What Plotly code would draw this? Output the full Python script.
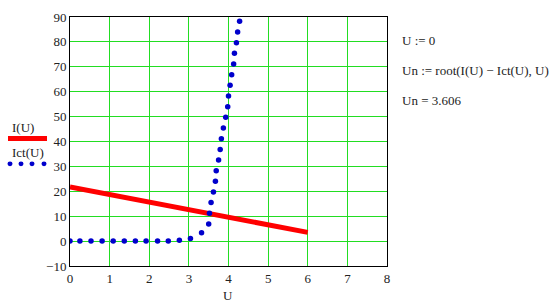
import plotly.graph_objects as go

# ---- data ----
u_line = [0, 1, 2, 3, 4, 5, 6]
i_line = [21.7, 18.7, 15.6, 12.5, 9.7, 6.5, 3.5]

u_dots = [0, 0.25, 0.53, 0.81, 1.09, 1.37, 1.65, 1.92, 2.21, 2.48, 2.76, 3.04,
          3.32, 3.50, 3.52, 3.56, 3.62, 3.67, 3.69, 3.75, 3.79, 3.82, 3.87,
          3.93, 3.98, 4.00, 4.04, 4.08, 4.13, 4.15, 4.20, 4.23, 4.28]
ict_dots = [0, 0, 0, 0, 0, 0, 0, 0, 0, 0, 0.3, 1.0,
            3.4, 6.9, 11.2, 15.5, 19.7, 24.0, 28.3, 32.6, 36.8, 41.1, 45.4,
            49.7, 54.0, 58.3, 62.6, 66.8, 71.1, 75.4, 79.7, 84.0, 88.3]

x_ticks = [0, 1, 2, 3, 4, 5, 6, 7, 8]
y_ticks = [-10, 0, 10, 20, 30, 40, 50, 60, 70, 80, 90]

W, H = 559, 308
L, R, T, B = 70, 172, 10, 42
PW, PH = W - L - R, H - T - B
FONT = "Liberation Serif, DejaVu Serif, serif"
TXT = dict(family=FONT, size=13, color="#222")

def px(xp):
    return (xp - L) / PW

def py(yp):
    return (H - B - yp) / PH

fig = go.Figure()
fig.add_trace(go.Scatter(x=u_line, y=i_line, mode="lines",
                         line=dict(color="#ff0000", width=5), name="I(U)"))
fig.add_trace(go.Scatter(x=u_dots, y=ict_dots, mode="markers",
                         marker=dict(color="#0000cc", size=5.5), name="Ict(U)"))

axis_common = dict(showgrid=True, gridcolor="#22dd22", gridwidth=1,
                   showline=True, linecolor="black", linewidth=1, mirror=True,
                   zeroline=False, ticks="", tickfont=TXT)

fig.update_xaxes(range=[0, 8], tickvals=x_ticks, **axis_common)
fig.update_yaxes(range=[-10, 90], tickvals=y_ticks, **axis_common)

def ann(text, x, y, xanchor="center"):
    return dict(text=text, x=px(x), y=py(y), xref="paper", yref="paper",
                xanchor=xanchor, yanchor="middle", showarrow=False, font=TXT)

annotations = [
    ann("U", 228, 296),
    ann("I(U)", 23, 124),
    ann("Ict(U)", 28, 149),
    ann("U := 0", 400, 34, "left"),
    ann("Un := root(I(U) \u2212 Ict(U), U)", 400, 65, "left"),
    ann("Un = 3.606", 400, 96, "left"),
]

shapes = [dict(type="line", xref="paper", yref="paper", x0=px(8), x1=px(47),
               y0=py(135), y1=py(135), line=dict(color="#ff0000", width=5))]
for cx in [10, 21, 32, 44]:
    shapes.append(dict(type="circle", xref="paper", yref="paper",
                       x0=px(cx - 2.5), x1=px(cx + 2.5), y0=py(161 + 2.5), y1=py(161 - 2.5),
                       fillcolor="#0000cc", line=dict(width=0)))

fig.update_layout(width=W, height=H, margin=dict(l=L, r=R, t=T, b=B),
                  paper_bgcolor="white", plot_bgcolor="white", showlegend=False,
                  font=TXT, annotations=annotations, shapes=shapes)

fig.write_html("out.html")
